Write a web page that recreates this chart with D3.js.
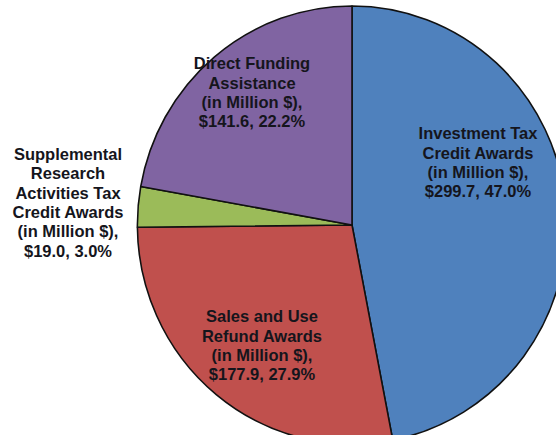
<!DOCTYPE html>
<html><head><meta charset="utf-8">
<script src="https://cdn.jsdelivr.net/npm/d3@7"></script>
<style>html,body{margin:0;padding:0;background:#fff;overflow:hidden}</style>
</head><body>
<svg id="chart" width="556" height="435"></svg>
<script>
// Data
const categories = [
  "Investment Tax Credit Awards",
  "Sales and Use Refund Awards",
  "Supplemental Research Activities Tax Credit Awards",
  "Direct Funding Assistance"
];
const values = [299.7, 177.9, 19.0, 141.6];
const unitText = "(in Million $),";
const nameLines = [
  ["Investment Tax", "Credit Awards"],
  ["Sales and Use", "Refund Awards"],
  ["Supplemental", "Research", "Activities Tax", "Credit Awards"],
  ["Direct Funding", "Assistance"]
];
const colors = ["#4F81BD", "#C0504D", "#9BBB59", "#8064A2"];

// Layout
const cx = 352, cy = 225, R = 219, sx = 0.98;
const labelCenters = [[478, 164], [262, 347], [68, 204], [252, 94]];
const lineH = 19.3;

const svg = d3.select("#chart");
const total = d3.sum(values);
const pie = d3.pie().sort(null).value(d => d)(values);
const arc = d3.arc().innerRadius(0).outerRadius(R);

const g = svg.append("g").attr("transform", `translate(${cx},${cy}) scale(${sx},1)`);
g.selectAll("path").data(pie).join("path")
  .attr("d", arc)
  .attr("fill", (d, i) => colors[i])
  .attr("stroke", "#111")
  .attr("stroke-width", 1.6)
  .attr("stroke-linejoin", "round");

const fmt = d3.format(".1f");
categories.forEach((c, i) => {
  const lines = nameLines[i].concat([unitText, "$" + fmt(values[i]) + ", " + fmt(values[i] / total * 100) + "%"]);
  const [lx, ly] = labelCenters[i];
  const t = svg.append("text")
    .attr("text-anchor", "middle")
    .attr("font-family", "Liberation Sans, Arial, sans-serif")
    .attr("font-weight", "bold")
    .attr("font-size", 16.5)
    .attr("fill", "#15151c");
  const y0 = ly - (lines.length - 1) * lineH / 2;
  lines.forEach((s, j) => {
    t.append("tspan").attr("x", lx).attr("y", y0 + j * lineH)
      .attr("dominant-baseline", "middle").text(s);
  });
});
</script>
</body></html>
